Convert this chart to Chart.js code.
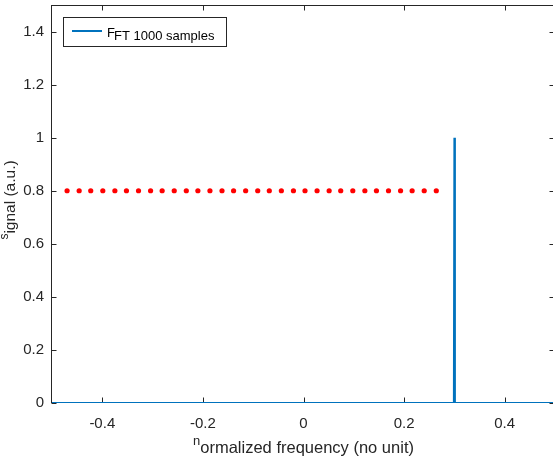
<!DOCTYPE html>
<html>
<head>
<meta charset="utf-8">
<script src="https://cdn.jsdelivr.net/npm/chart.js@4.4.1/dist/chart.umd.min.js"></script>
<style>
  html, body { margin: 0; padding: 0; background: #fff; overflow: hidden; }
  canvas { display: block; }
</style>
</head>
<body>
<canvas id="fftChart" width="555" height="457"></canvas>
<script>
// valeurs
const xTicks = [-0.4, -0.2, 0, 0.2, 0.4];
const yTicks = [0, 0.2, 0.4, 0.6, 0.8, 1, 1.2, 1.4];

// FFT 1000 échantillons : tout à zéro sauf le pic à 0.3
const fftX = [-0.5, 0.299, 0.3, 0.301, 0.5];
const fftY = [0, 0, 1, 0, 0];

// points rouges (pointillés) à 0.8
const refX = [-0.470, -0.446, -0.423, -0.399, -0.375, -0.352, -0.328, -0.304,
              -0.281, -0.257, -0.233, -0.210, -0.186, -0.162, -0.139, -0.115,
              -0.091, -0.068, -0.044, -0.020, 0.003, 0.027, 0.051, 0.074,
              0.098, 0.122, 0.145, 0.169, 0.193, 0.216, 0.240, 0.264];
const refY = [0.8, 0.8, 0.8, 0.8, 0.8, 0.8, 0.8, 0.8,
              0.8, 0.8, 0.8, 0.8, 0.8, 0.8, 0.8, 0.8,
              0.8, 0.8, 0.8, 0.8, 0.8, 0.8, 0.8, 0.8,
              0.8, 0.8, 0.8, 0.8, 0.8, 0.8, 0.8, 0.8];

const FONT = '"Liberation Sans", Arial, Helvetica, sans-serif';
const AXIS_COLOR = '#262626';

// pas de marge automatique autour de la zone de tracé
function noPadding(axis) {
    axis.paddingTop = 0;
    axis.paddingBottom = 0;
    axis.paddingLeft = 0;
    axis.paddingRight = 0;
}

// cadre façon MATLAB avec graduations vers l'intérieur
const framePlugin = {
    id: 'frame',
    beforeDatasetsDraw(chart) {
        const { ctx, chartArea: a, scales } = chart;
        const L = Math.round(a.left) - 0.5, R = Math.round(a.right) - 0.5;
        const T = Math.round(a.top) + 0.5, B = Math.round(a.bottom) - 0.5;
        ctx.save();
        ctx.strokeStyle = AXIS_COLOR;
        ctx.lineWidth = 1;
        ctx.strokeRect(L, T, R - L, B - T);
        ctx.beginPath();
        xTicks.forEach(v => {
            const px = Math.round(scales.x.getPixelForValue(v)) + 0.5;
            ctx.moveTo(px, B); ctx.lineTo(px, B - 5);
            ctx.moveTo(px, T); ctx.lineTo(px, T + 5);
        });
        yTicks.forEach(v => {
            const py = Math.round(scales.y.getPixelForValue(v)) + 0.5;
            ctx.moveTo(L, py); ctx.lineTo(L + 5, py);
            ctx.moveTo(R, py); ctx.lineTo(R - 5, py);
        });
        ctx.stroke();
        ctx.restore();
    }
};

// titres d'axes et légende (premier caractère décalé comme dans l'original)
const textPlugin = {
    id: 'texts',
    afterDraw(chart) {
        const { ctx, chartArea: a } = chart;
        ctx.save();
        ctx.fillStyle = AXIS_COLOR;
        ctx.textBaseline = 'alphabetic';
        ctx.textAlign = 'left';

        // titre x
        const small = '13px ' + FONT, big = '16.5px ' + FONT;
        ctx.font = small;
        const wn = ctx.measureText('n').width;
        ctx.font = big;
        const wRest = ctx.measureText('ormalized frequency (no unit)').width;
        let x0 = (a.left + a.right) / 2 - (wn + wRest) / 2;
        ctx.font = small;
        ctx.fillText('n', x0, 445);
        ctx.font = big;
        ctx.fillText('ormalized frequency (no unit)', x0 + wn, 453);

        // titre y
        ctx.save();
        ctx.rotate(-Math.PI / 2);
        ctx.font = '12px ' + FONT;
        const ws = ctx.measureText('s').width;
        ctx.font = '15.5px ' + FONT;
        const wy = ctx.measureText('ignal (a.u.)').width;
        const y0 = -(200 + (ws + wy) / 2);
        ctx.font = '12px ' + FONT;
        ctx.fillText('s', y0, 8);
        ctx.font = '15.5px ' + FONT;
        ctx.fillText('ignal (a.u.)', y0 + ws, 15);
        ctx.restore();

        // légende
        ctx.fillStyle = '#ffffff';
        ctx.fillRect(63.5, 17.5, 163, 29);
        ctx.strokeStyle = AXIS_COLOR;
        ctx.lineWidth = 1;
        ctx.strokeRect(63.5, 17.5, 163, 29);
        ctx.strokeStyle = '#0072BD';
        ctx.lineWidth = 2;
        ctx.beginPath();
        ctx.moveTo(72, 31);
        ctx.lineTo(102, 31);
        ctx.stroke();
        ctx.fillStyle = '#000000';
        ctx.font = '13px ' + FONT;
        ctx.fillText('F', 107, 36.5);
        ctx.fillText('FT 1000 samples', 114, 39.5);
        ctx.restore();
    }
};

new Chart(document.getElementById('fftChart'), {
    type: 'scatter',
    data: {
        datasets: [
            {
                label: 'FFT 1000 samples',
                data: fftX.map((x, i) => ({ x: x, y: fftY[i] })),
                showLine: true,
                borderColor: '#0072BD',
                borderWidth: 2,
                pointRadius: 0,
                tension: 0
            },
            {
                label: 'ref',
                data: refX.map((x, i) => ({ x: x, y: refY[i] })),
                showLine: false,
                pointRadius: 2.6,
                pointBackgroundColor: '#ff0000',
                pointBorderWidth: 0
            }
        ]
    },
    options: {
        responsive: false,
        devicePixelRatio: 1,
        animation: false,
        layout: { autoPadding: false, padding: { top: 5, right: 0, left: 0, bottom: 0 } },
        plugins: {
            legend: { display: false },
            tooltip: { enabled: false }
        },
        scales: {
            x: {
                type: 'linear',
                min: -0.5,
                max: 0.5,
                grid: { display: false, drawTicks: false },
                border: { display: false },
                afterBuildTicks: axis => { axis.ticks = xTicks.map(v => ({ value: v })); },
                afterFit: axis => { axis.height = 54; noPadding(axis); },
                ticks: {
                    padding: 12,
                    color: AXIS_COLOR,
                    font: { family: FONT, size: 15 },
                    callback: v => String(+v.toFixed(1))
                }
            },
            y: {
                type: 'linear',
                min: 0,
                max: 1.5,
                grid: { display: false, drawTicks: false },
                border: { display: false },
                afterBuildTicks: axis => { axis.ticks = yTicks.map(v => ({ value: v })); },
                afterFit: axis => { axis.width = 52; noPadding(axis); },
                ticks: {
                    padding: 8,
                    color: AXIS_COLOR,
                    font: { family: FONT, size: 15 },
                    callback: v => String(+v.toFixed(1))
                }
            }
        }
    },
    plugins: [framePlugin, textPlugin]
});
</script>
</body>
</html>
